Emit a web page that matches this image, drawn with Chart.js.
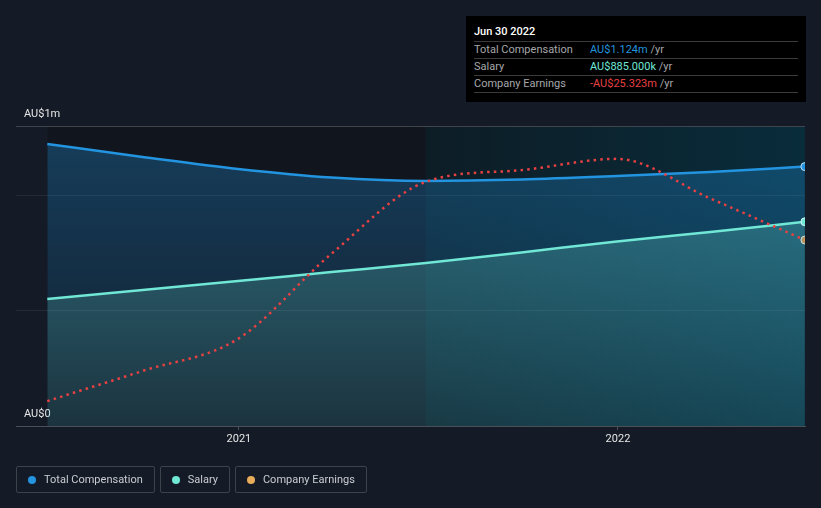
<!DOCTYPE html>
<html>
<head>
<meta charset="utf-8">
<script src="https://cdn.jsdelivr.net/npm/chart.js@4.4.1/dist/chart.umd.min.js"></script>
<style>
  html, body { margin: 0; padding: 0; background: #151b26; }
  body { width: 821px; height: 508px; position: relative; overflow: hidden; font-family: Roboto, "Noto Sans", sans-serif; }
  #wrap { position: absolute; left: 0; top: 0; width: 821px; height: 508px; }
  .tip { position: absolute; left: 466px; top: 16px; width: 340px; height: 86px; background: #000; font-size: 11px; }
  .tip .title { position: absolute; left: 8px; top: 7px; line-height: 17px; color: #fff; font-weight: 500; }
  .tip .rows { position: absolute; left: 8px; top: 25px; width: 324px; border-bottom: 1px solid #3a3a3a; }
  .tip .row { border-top: 1px solid #3a3a3a; height: 16px; line-height: 15px; color: #a5a7aa; position: relative; }
  .tip .row .v { position: absolute; left: 116px; top: 0; }
  .tip .unit { color: #a5a7aa; }
  .legend { position: absolute; left: 16px; top: 466px; display: flex; gap: 5px; }
  .legend .item { height: 25px; border: 1px solid #3d424b; border-radius: 2px; display: flex; align-items: center; padding: 0 11px 0 11px; color: #c9ccd1; font-size: 11px; }
  .legend .dot { width: 8px; height: 8px; border-radius: 50%; margin-right: 8px; }
</style>
</head>
<body>
<div id="wrap"><canvas id="myChart" width="821" height="508"></canvas></div>

<div class="tip">
  <div class="title">Jun 30 2022</div>
  <div class="rows">
    <div class="row">Total Compensation<span class="v"><span style="color:#2394df">AU$1.124m</span> <span class="unit">/yr</span></span></div>
    <div class="row">Salary<span class="v"><span style="color:#71e7d6">AU$885.000k</span> <span class="unit">/yr</span></span></div>
    <div class="row">Company Earnings<span class="v"><span style="color:#e84142">-AU$25.323m</span> <span class="unit">/yr</span></span></div>
  </div>
</div>

<div class="legend">
  <div class="item"><span class="dot" style="background:#2394df"></span>Total Compensation</div>
  <div class="item"><span class="dot" style="background:#71e7d6"></span>Salary</div>
  <div class="item"><span class="dot" style="background:#e8ac5b"></span>Company Earnings</div>
</div>

<script>
// Reporting dates (quarterly)
const dates = ["2020-06-30", "2020-09-30", "2020-12-31", "2021-03-31", "2021-06-30",
               "2021-09-30", "2021-12-31", "2022-03-31", "2022-06-30"];
// AU$ millions
const totalComp = [1.222, 1.166, 1.114, 1.077, 1.062, 1.068, 1.083, 1.101, 1.124];
const salary = [0.550, 0.589, 0.628, 0.667, 0.706, 0.752, 0.800, 0.841, 0.885];
const earnings = [-61.1, -54.4, -47.3, -28.4, -12.4, -9.8, -7.3, -16.1, -25.323];
const yearTicks = [2021, 2022];

// date string -> fractional year for the linear x axis
function toYear(s) {
  const d = new Date(s + "T00:00:00Z");
  const y = d.getUTCFullYear();
  const start = Date.UTC(y, 0, 1), end = Date.UTC(y + 1, 0, 1);
  return y + (d.getTime() - start) / (end - start);
}
const xs = dates.map(toYear);
const pts = (arr) => arr.map((v, i) => ({ x: xs[i], y: v }));
const lastOnly = (r) => (ctx) => (ctx.dataIndex === dates.length - 1 ? r : 0);

// shaded bands behind the data
const bands = {
  id: "bands",
  beforeDraw(chart) {
    const { ctx, chartArea, scales } = chart;
    const x0 = scales.x.getPixelForValue(xs[0]);
    const x1 = scales.x.getPixelForValue(toYear("2021-06-30"));
    const x2 = scales.x.getPixelForValue(xs[xs.length - 1]);
    ctx.save();
    ctx.fillStyle = "rgba(0,0,0,0.2)";
    ctx.fillRect(x0, chartArea.top, x1 - x0, chartArea.bottom - chartArea.top);
    const g = ctx.createLinearGradient(x1, 0, x2, 0);
    g.addColorStop(0, "#0d1d26");
    g.addColorStop(1, "#092c3b");
    ctx.fillStyle = g;
    ctx.fillRect(x1, chartArea.top, x2 - x1, chartArea.bottom - chartArea.top);
    ctx.restore();
  },
};

function vGrad(ctx, top, bottom) {
  const area = ctx.chart.chartArea;
  if (!area) return top;
  const g = ctx.chart.ctx.createLinearGradient(0, area.top, 0, area.bottom);
  g.addColorStop(0, top);
  g.addColorStop(1, bottom);
  return g;
}

Chart.defaults.font.family = "Roboto, 'Noto Sans', sans-serif";

new Chart(document.getElementById("myChart"), {
  type: "line",
  data: {
    datasets: [
      {
        label: "Company Earnings",
        data: pts(earnings),
        yAxisID: "y2",
        borderColor: "#e84142",
        borderWidth: 2.5,
        borderDash: [2.5, 4.2],
        fill: false,
        cubicInterpolationMode: "monotone",
        pointRadius: lastOnly(4),
        pointBackgroundColor: "rgba(232,172,91,0.7)",
        pointBorderColor: "#cfd8dc",
        pointBorderWidth: 1,
        clip: 0,
      },
      {
        label: "Salary",
        data: pts(salary),
        yAxisID: "y",
        borderColor: "#71e7d6",
        borderWidth: 2.5,
        fill: "origin",
        backgroundColor: (ctx) => vGrad(ctx, "rgba(113,231,214,0.3)", "rgba(113,231,214,0.1)"),
        cubicInterpolationMode: "monotone",
        pointRadius: lastOnly(4),
        pointBackgroundColor: "#71e7d6",
        pointBorderColor: "#d5f7f2",
        pointBorderWidth: 1,
        clip: 0,
      },
      {
        label: "Total Compensation",
        data: pts(totalComp),
        yAxisID: "y",
        borderColor: "#2394df",
        borderWidth: 2.5,
        fill: "origin",
        backgroundColor: (ctx) => vGrad(ctx, "rgba(35,148,223,0.32)", "rgba(35,148,223,0.08)"),
        cubicInterpolationMode: "monotone",
        pointRadius: lastOnly(4),
        pointBackgroundColor: "#2394df",
        pointBorderColor: "#bfe3f7",
        pointBorderWidth: 1,
        clip: 0,
      },
    ],
  },
  options: {
    responsive: false,
    animation: false,
    layout: { padding: { left: 16, right: 16, top: 126, bottom: 58 } },
    plugins: { legend: { display: false }, tooltip: { enabled: false } },
    elements: { line: { borderCapStyle: "butt" } },
    scales: {
      x: {
        type: "linear",
        min: 2020.412,
        max: 2022.4934,
        afterBuildTicks: (scale) => { scale.ticks = yearTicks.map((v) => ({ value: v })); },
        afterFit: (scale) => { scale.height = 24; },
        ticks: { color: "#e6e6e6", font: { size: 11 }, padding: 3, callback: (v) => String(v) },
        grid: { drawOnChartArea: false, drawTicks: true, tickLength: 4, tickColor: "#4a4f58" },
        border: { display: true, color: "#4a4f58", width: 1 },
      },
      y: {
        min: 0,
        max: 1.3,
        afterBuildTicks: (scale) => { scale.ticks = [0, 0.5, 1, 1.3].map((v) => ({ value: v })); },
        afterFit: (scale) => { scale.width = 0; },
        ticks: {
          mirror: true,
          padding: 8,
          labelOffset: -12,
          color: "#e6e6e6",
          font: { size: 11 },
          callback: (v) => (v === 1.3 ? "AU$1m" : v === 0 ? "AU$0" : ""),
        },
        grid: {
          drawTicks: false,
          color: (ctx) => (ctx.tick && ctx.tick.value === 1.3 ? "#3f444d" : "rgba(255,255,255,0.07)"),
        },
        border: { display: false },
      },
      y2: { display: false, min: -66.63, max: 0 },
    },
  },
  plugins: [bands],
});
</script>
</body>
</html>
